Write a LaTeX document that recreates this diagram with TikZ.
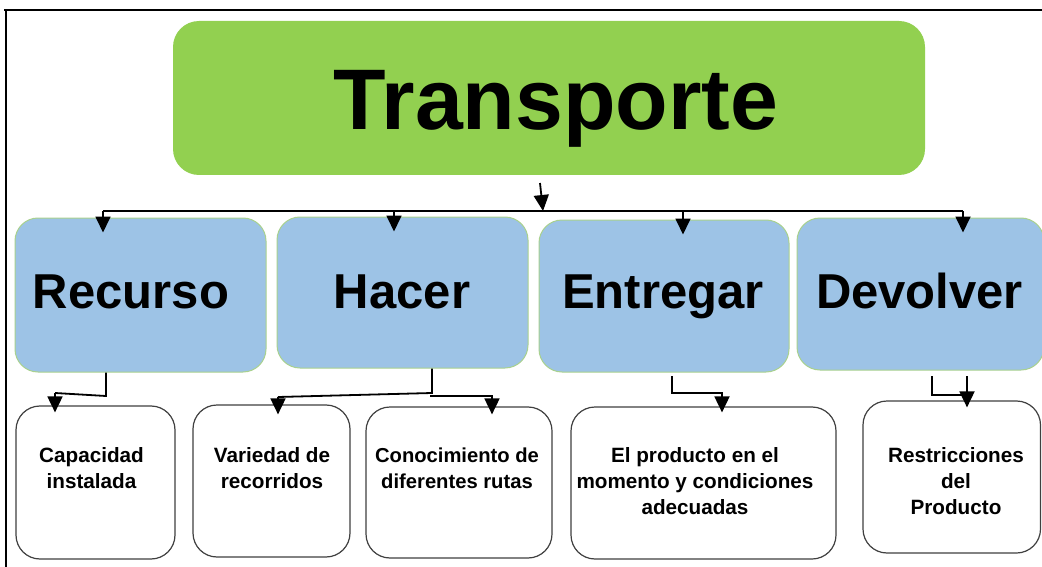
\documentclass[tikz,border=0pt]{standalone}
\usepackage{fontspec}
\setmainfont{Liberation Sans}
\usetikzlibrary{arrows.meta}
\definecolor{greenfill}{HTML}{92D050}
\definecolor{bluefill}{HTML}{9DC3E6}
\definecolor{blueedge}{HTML}{A9D18E}
\definecolor{grayedge}{HTML}{404040}
\begin{document}
\begin{tikzpicture}[x=1pt,y=-1pt,
  topbox/.style={fill=greenfill, rounded corners=26pt, inner sep=0pt, minimum width=752pt, minimum height=154pt},
  midbox/.style={draw=blueedge, line width=1pt, fill=bluefill, rounded corners=23pt, inner sep=0pt},
  lowbox/.style={draw=grayedge, line width=1.2pt, fill=white, rounded corners=24pt, inner sep=0pt},
  bigtxt/.style={font=\fontsize{86}{100}\selectfont\bfseries, inner sep=0pt, anchor=base},
  midtxt/.style={font=\fontsize{49}{58}\selectfont\bfseries, inner sep=0pt, anchor=base},
  lowtxt/.style={font=\fontsize{20.7}{26}\selectfont\bfseries, inner sep=0pt, anchor=base, align=center},
  ln/.style={line width=1.8pt, black},
  arr/.style={ln, -{Triangle[width=15pt,length=16pt]}},
  framestyle/.style={line width=2.4pt, black}]
\useasboundingbox (0,0) rectangle (1042,567);
\fill[white] (0,0) rectangle (1042,567);

% frame
\coordinate (fTL) at (6,10);
\coordinate (fT0) at (4,10);
\coordinate (fTR) at (1042,10);
\coordinate (fBL) at (6,567);
\draw[framestyle] (fT0) -- (fTR);
\draw[framestyle] (fTL) -- (fBL);

% top box
\node[topbox] (trans) at (549,98) {};
\node[bigtxt] (transT) at (556,130) {Transporte};

% middle boxes
\node[midbox, minimum width=251pt, minimum height=154pt] (rec) at (140.5,295) {};
\node[midbox, minimum width=251pt, minimum height=151pt] (hac) at (402.5,292.5) {};
\node[midbox, minimum width=250pt, minimum height=152pt] (ent) at (664,296) {};
\node[midbox, minimum width=247pt, minimum height=152pt] (dev) at (920.5,294) {};
\node[midtxt] (recT) at (131,308) {Recurso};
\node[midtxt] (hacT) at (402,308) {Hacer};
\node[midtxt] (entT) at (663,308) {Entregar};
\node[midtxt] (devT) at (919.5,308) {Devolver};

% lower boxes
\node[lowbox, minimum width=159pt, minimum height=153pt] (cap) at (95.5,482.5) {};
\node[lowbox, minimum width=157pt, minimum height=152pt] (var) at (271.5,481) {};
\node[lowbox, minimum width=186pt, minimum height=151pt] (con) at (459,482.5) {};
\node[lowbox, minimum width=265pt, minimum height=152pt] (prod) at (703.5,483) {};
\node[lowbox, minimum width=177.5pt, minimum height=152pt] (res) at (951.75,477) {};
\node[lowtxt] (capT) at (91.5,488.5) {Capacidad\\instalada};
\node[lowtxt] (varT) at (272,488.5) {Variedad de\\recorridos};
\node[lowtxt, font=\fontsize{20.2}{26}\selectfont\bfseries] (conT) at (457,488.5) {Conocimiento de\\diferentes rutas};
\node[lowtxt] (prodT) at (695,514.5) {El producto en el\\momento y condiciones\\adecuadas};
\node[lowtxt] (resT) at (956,514.5) {Restricciones\\del\\Producto};

% top connectors
\coordinate (tA) at (540,183);
\coordinate (tB) at (543,211);
\draw[arr] (tA) -- (tB);
\coordinate (bL) at (103,211);
\coordinate (bH) at (394,211);
\coordinate (bE) at (683,211);
\coordinate (bR) at (963,211);
\draw[ln] (bL) -- (bR);
\draw[arr] (bL) -- ([yshift=-15pt]bL |- rec.north);
\draw[arr] (bH) -- ([yshift=-15pt]bH |- hac.north);
\draw[arr] (bE) -- ([yshift=-15pt]bE |- ent.north);
\draw[arr] (bR) -- ([yshift=-15pt]bR |- dev.north);

% Recurso
\coordinate (r1) at (106,396);
\coordinate (r2) at (55,393);
\draw[ln] (r1 |- rec.south) -- (r1) -- (r2);
\draw[arr] (r2) -- ([yshift=-7pt]r2 |- cap.north);

% Hacer
\coordinate (h1) at (432,393);
\coordinate (h2) at (278,397);
\coordinate (h3) at (430,396);
\coordinate (h4) at (492,396);
\draw[ln] (h1 |- hac.south) -- (h1) -- (h2);
\draw[arr] (h2) -- ([yshift=-10pt]h2 |- var.north);
\draw[arr] (h3) -- (h4) -- ([yshift=-8pt]h4 |- con.north);

% Entregar
\coordinate (e0) at (672,376);
\coordinate (e1) at (672,393);
\coordinate (e2) at (722,393);
\draw[arr] (e0) -- (e1) -- (e2) -- ([yshift=-6pt]e2 |- prod.north);

% Devolver
\coordinate (d0) at (932,376);
\coordinate (d1) at (932,395);
\coordinate (d2) at (967,395);
\coordinate (d3) at (967,376);
\draw[ln] (d0) -- (d1) -- (d2);
\draw[arr] (d3) -- ([yshift=-7pt]d3 |- res.north);
\end{tikzpicture}
\end{document}
